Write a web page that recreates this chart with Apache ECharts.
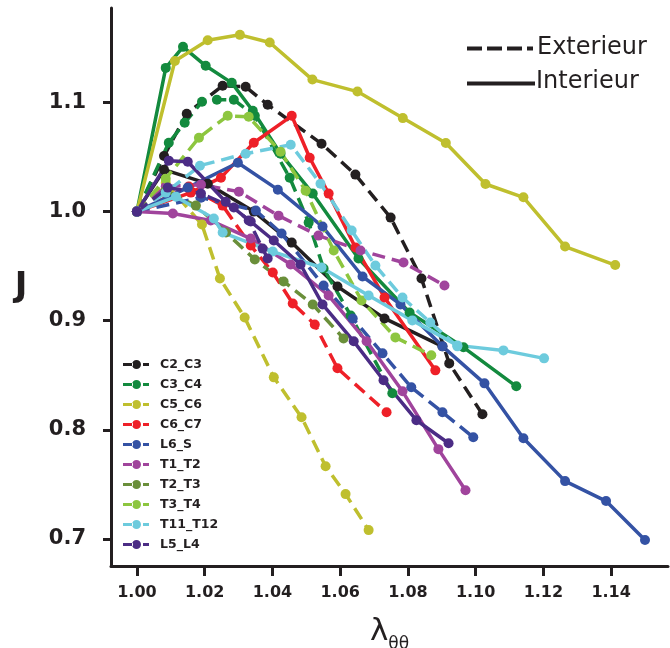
<!DOCTYPE html>
<html>
<head>
<meta charset="utf-8">
<script src="https://cdn.jsdelivr.net/npm/echarts@6/dist/echarts.min.js"></script>
<style>html,body{margin:0;padding:0;background:#fff}#c{width:670px;height:648px}</style>
</head>
<body>
<div id="c"></div>
<script>
// ---- data (lambda_theta_theta, J) ----
const categories = ['C2_C3','C3_C4','C5_C6','C6_C7','L6_S','T1_T2','T2_T3','T3_T4','T11_T12','L5_L4'];
const colors = ['#231f20','#138a3e','#bfbf2e','#ee2028','#3452a4','#a0449c','#6a8f3a','#8dc63f','#6dcbdd','#4b2c85'];
const xTicks = [1.00,1.02,1.04,1.06,1.08,1.10,1.12,1.14];
const yTicks = [0.7,0.8,0.9,1.0,1.1];

const C2_C3_ext = [[1,1],[1.008,1.051],[1.0147,1.0897],[1.0253,1.1153],[1.0321,1.1144],[1.0386,1.0979],[1.0545,1.0622],[1.0645,1.0339],[1.0749,0.9945],[1.0840,0.9387],[1.0922,0.8609],[1.1020,0.8143]];
const C2_C3_int = [[1,1],[1.008,1.0384],[1.0209,1.0256],[1.0345,1.000],[1.0457,0.9716],[1.0592,0.9314],[1.0731,0.9021],[1.0902,0.8765]];
const C3_C4_ext = [[1,1],[1.0094,1.0631],[1.0141,1.0814],[1.0192,1.1006],[1.0236,1.1025],[1.0286,1.1025],[1.0348,1.0878],[1.0451,1.0311],[1.0507,0.9899],[1.0551,0.9479],[1.0631,0.9048],[1.0754,0.8335]];
const C3_C4_int = [[1,1],[1.0085,1.1317],[1.0136,1.151],[1.0203,1.1336],[1.028,1.118],[1.0342,1.0924],[1.0424,1.0531],[1.0519,1.0165],[1.0654,0.957],[1.0805,0.9076],[1.0964,0.8756],[1.112,0.8399]];
const C5_C6_ext = [[1,1],[1.0085,1.0265],[1.0192,0.9881],[1.0245,0.9387],[1.0318,0.903],[1.0404,0.8481],[1.0486,0.8115],[1.0557,0.7667],[1.0616,0.7411],[1.0684,0.7081]];
const C5_C6_int = [[1,1],[1.0112,1.138],[1.0209,1.157],[1.0304,1.162],[1.0392,1.155],[1.0518,1.121],[1.0651,1.110],[1.0785,1.0857],[1.0912,1.0629],[1.1029,1.0253],[1.1141,1.0131],[1.1264,0.968],[1.1412,0.951]];
const C6_C7_ext = [[1,1],[1.0153,1.0229],[1.0253,1.0055],[1.0336,0.9689],[1.0401,0.9442],[1.046,0.9158],[1.0525,0.8966],[1.0592,0.8564],[1.0737,0.8161]];
const C6_C7_int = [[1,1],[1.0159,1.0174],[1.0248,1.0311],[1.0345,1.0631],[1.0457,1.0878],[1.051,1.0494],[1.0566,1.0165],[1.0645,0.9671],[1.0731,0.9213],[1.0881,0.8545]];
const L6_S_ext = [[1,1],[1.0189,1.0128],[1.0351,1.0009],[1.0427,0.9799],[1.0551,0.9323],[1.0637,0.9021],[1.0725,0.8701],[1.081,0.839],[1.0902,0.8161],[1.0993,0.7932]];
const L6_S_int = [[1,1],[1.015,1.022],[1.0298,1.0448],[1.0416,1.0201],[1.0548,0.9863],[1.0666,0.9405],[1.0778,0.9149],[1.0902,0.8765],[1.1026,0.8426],[1.1141,0.7923],[1.1264,0.753],[1.1385,0.7347],[1.150,0.699]];
const T1_T2_ext = [[1,1],[1.0085,1.0229],[1.0189,1.0247],[1.0301,1.0183],[1.0418,0.9963],[1.0536,0.978],[1.066,0.9643],[1.0787,0.9533],[1.0908,0.9323]];
const T1_T2_int = [[1,1],[1.0106,0.9982],[1.0218,0.9918],[1.0336,0.9753],[1.0454,0.9515],[1.0566,0.9231],[1.0678,0.8811],[1.0784,0.8353],[1.089,0.7823],[1.097,0.7447]];
const T2_T3_ext = [[1,1],[1.0085,1.0192],[1.0174,1.0055],[1.0263,0.9808],[1.0348,0.9561],[1.0433,0.936],[1.0519,0.9149],[1.061,0.8838]];
const T3_T4_ext = [[1,1],[1.0085,1.0302],[1.0183,1.0677],[1.0268,1.0878],[1.033,1.0869],[1.0424,1.0549],[1.0498,1.0192],[1.0581,0.9643],[1.0663,0.9186],[1.0763,0.8847],[1.0869,0.8683]];
const T11_T12_ext = [[1,1],[1.0085,1.0174],[1.0186,1.0421],[1.0321,1.0531],[1.0454,1.0613],[1.0542,1.0256],[1.0634,0.9826],[1.0704,0.9506],[1.0784,0.9213],[1.0866,0.8984],[1.0946,0.8765]];
const T11_T12_int = [[1,1],[1.0115,1.0137],[1.0227,0.9936],[1.0253,0.9808],[1.0401,0.9634],[1.0545,0.9488],[1.0684,0.9231],[1.0813,0.9003],[1.0946,0.8774],[1.1082,0.8728],[1.1202,0.8655]];
const L5_L4_ext = [[1,1],[1.0091,1.022],[1.0189,1.0165],[1.0286,1.0037],[1.033,0.9918],[1.0371,0.9661],[1.0386,0.957]];
const L5_L4_int = [[1,1],[1.0094,1.0467],[1.015,1.0457],[1.0262,1.0091],[1.0336,0.9909],[1.0404,0.9735],[1.0483,0.9515],[1.0548,0.9149],[1.064,0.8811],[1.0728,0.8454],[1.0825,0.8088],[1.092,0.7877]];

const exterior = {C2_C3:C2_C3_ext,C3_C4:C3_C4_ext,C5_C6:C5_C6_ext,C6_C7:C6_C7_ext,L6_S:L6_S_ext,T1_T2:T1_T2_ext,T2_T3:T2_T3_ext,T3_T4:T3_T4_ext,T11_T12:T11_T12_ext,L5_L4:L5_L4_ext};
const interior = {C2_C3:C2_C3_int,C3_C4:C3_C4_int,C5_C6:C5_C6_int,C6_C7:C6_C7_int,L6_S:L6_S_int,T1_T2:T1_T2_int,T11_T12:T11_T12_int,L5_L4:L5_L4_int};

// ---- chart ----
const ink = '#231f20';
const series = [];
categories.forEach((name, i) => {
  const mk = (data, dashed) => ({
    type: 'line', name, data, color: colors[i],
    symbol: 'circle', symbolSize: 10, showSymbol: true,
    lineStyle: {width: 3.5, type: dashed ? [13, 7] : 'solid', color: colors[i]},
    itemStyle: {color: colors[i]},
    emphasis: {disabled: true}, animation: false, z: 2
  });
  if (exterior[name]) series.push(mk(exterior[name], true));
  if (interior[name]) series.push(mk(interior[name], false));
});

const iconPath = 'path://M0 3L10 3L10 6L0 6Z M9 4.5A4.5 4.5 0 1 0 18 4.5A4.5 4.5 0 1 0 9 4.5Z M20 3L26 3L26 6L20 6Z';

const chart = echarts.init(document.getElementById('c'), null, {renderer: 'canvas'});
chart.setOption({
  backgroundColor: '#fff',
  animation: false,
  grid: {left: 111, right: 2, top: 8, bottom: 82, containLabel: false, outerBoundsMode: 'none'},
  xAxis: {
    type: 'value', min: 0.99234, max: 1.15679,
    axisLine: {show: true, lineStyle: {color: ink, width: 3}},
    axisTick: {show: true, customValues: xTicks, length: 10, lineStyle: {color: ink, width: 3}},
    axisLabel: {customValues: xTicks, formatter: v => v.toFixed(2), margin: 19,
      fontFamily: 'DejaVu Sans', fontWeight: 'bold', fontSize: 16, color: ink},
    splitLine: {show: false},
    name: '{l|λ}{s|θθ}', nameLocation: 'middle', nameGap: 50,
    nameTextStyle: {color: ink, rich: {
      l: {fontFamily: 'DejaVu Sans', fontSize: 31, color: ink, padding: [0,0,6,0]},
      s: {fontFamily: 'DejaVu Sans', fontSize: 17, color: ink, verticalAlign: 'bottom'}
    }}
  },
  yAxis: {
    type: 'value', min: 0.6752, max: 1.1866,
    axisLine: {show: true, lineStyle: {color: ink, width: 3}},
    axisTick: {show: true, customValues: yTicks, length: 8, lineStyle: {color: ink, width: 3}},
    axisLabel: {customValues: yTicks, formatter: v => v.toFixed(1), margin: 25,
      fontFamily: 'DejaVu Sans', fontWeight: 'bold', fontSize: 21, color: ink},
    splitLine: {show: false},
    name: 'J', nameLocation: 'middle', nameRotate: 0, nameGap: 90,
    nameTextStyle: {fontFamily: 'DejaVu Sans', fontWeight: 'bold', fontSize: 34, color: ink,
      align: 'center', verticalAlign: 'middle', padding: [0,0,30,0]}
  },
  legend: {
    data: categories.map(n => ({name: n, icon: iconPath})),
    orient: 'vertical', left: 123, top: 357, padding: 0,
    itemWidth: 26, itemHeight: 9, itemGap: 5,
    selectedMode: false,
    textStyle: {fontFamily: 'DejaVu Sans', fontWeight: 'bold', fontSize: 12.5, color: ink,
      lineHeight: 15, padding: [0,0,0,6]}
  },
  graphic: [
    {type: 'line', shape: {x1: 467, y1: 48.5, x2: 533, y2: 48.5},
     style: {stroke: ink, lineWidth: 4, lineDash: [15, 5]}},
    {type: 'line', shape: {x1: 467, y1: 83.5, x2: 535, y2: 83.5},
     style: {stroke: ink, lineWidth: 4}},
    {type: 'text', x: 537, y: 48, style: {text: 'Exterieur', font: '24px "DejaVu Sans"', fill: ink, textVerticalAlign: 'middle'}},
    {type: 'text', x: 536, y: 82, style: {text: 'Interieur', font: '24px "DejaVu Sans"', fill: ink, textVerticalAlign: 'middle'}}
  ],
  series
});
</script>
</body>
</html>
